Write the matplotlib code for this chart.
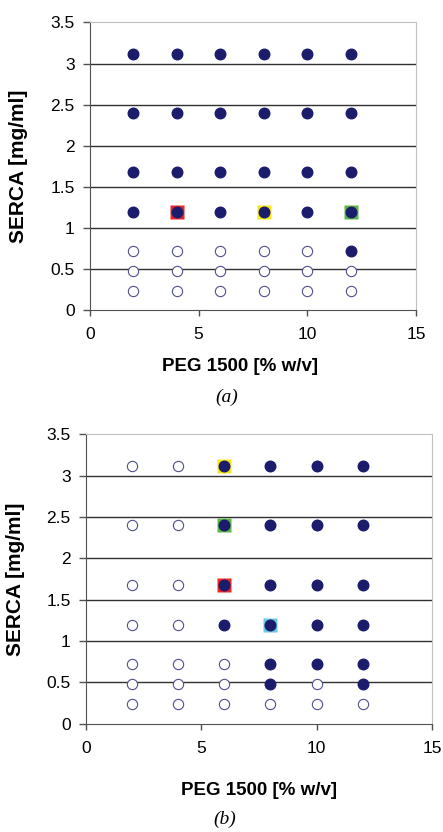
import numpy as np
import matplotlib
matplotlib.use("Agg")
import matplotlib.pyplot as plt

plt.rcParams['font.family'] = ['Liberation Sans', 'DejaVu Sans']

peg = [2, 4, 6, 8, 10, 12]
serca = [3.12, 2.4, 1.68, 1.2, 0.72, 0.48, 0.24]

# 1 = crystals (filled), 0 = clear (open); rows follow serca, columns follow peg
hits_a = [[1, 1, 1, 1, 1, 1],
          [1, 1, 1, 1, 1, 1],
          [1, 1, 1, 1, 1, 1],
          [1, 1, 1, 1, 1, 1],
          [0, 0, 0, 0, 0, 1],
          [0, 0, 0, 0, 0, 0],
          [0, 0, 0, 0, 0, 0]]
hits_b = [[0, 0, 1, 1, 1, 1],
          [0, 0, 1, 1, 1, 1],
          [0, 0, 1, 1, 1, 1],
          [0, 0, 1, 1, 1, 1],
          [0, 0, 0, 1, 1, 1],
          [0, 0, 0, 1, 0, 1],
          [0, 0, 0, 0, 0, 0]]

# highlighted conditions: (peg, serca, colour)
marks_a = [(4, 1.2, '#e8262a'), (8, 1.2, '#f4e61c'), (12, 1.2, '#5cb548')]
marks_b = [(6, 3.12, '#f4e61c'), (6, 2.4, '#5cb548'), (6, 1.68, '#e8262a'),
           (8, 1.2, '#6cc8dc')]

navy = '#1c1c6c'


def panel(ax, hits, marks, caption, xlab_x, xlab_y, ylab_x, cap_x, cap_y):
    ax.set_xlim(0, 15)
    ax.set_ylim(0, 3.5)
    ax.set_xticks([0, 5, 10, 15])
    ax.set_yticks(np.arange(0, 3.51, 0.5))
    ax.set_yticklabels(['0', '0.5', '1', '1.5', '2', '2.5', '3', '3.5'])
    for y in np.arange(0.5, 3.01, 0.5):
        ax.axhline(y, color='#303030', lw=1.0, zorder=1)

    for px, py, c in marks:
        ax.plot(px, py, marker='s', ms=10.5, mfc=c, mec='none', zorder=2)

    X, Y = np.meshgrid(peg, serca)
    H = np.array(hits)
    ax.plot(X[H == 1], Y[H == 1], 'o', ms=7.6, mfc=navy, mec=navy, zorder=3)
    ax.plot(X[H == 0], Y[H == 0], 'o', ms=7.4, mfc='white', mec='#505090',
            mew=0.8, zorder=3)

    for s in ['top', 'right']:
        ax.spines[s].set_color('#c0c0c0')
    for s in ['left', 'bottom']:
        ax.spines[s].set_color('#505050')
    ax.tick_params(direction='out', width=1, color='#505050', labelsize=12.5)
    ax.tick_params(axis='x', length=4, pad=8)
    ax.tick_params(axis='y', length=5, pad=6)
    ax.set_xlabel('PEG 1500 [% w/v]', fontsize=13.5, fontweight='bold')
    ax.set_ylabel('SERCA [mg/ml]', fontsize=15, fontweight='bold')
    ax.xaxis.set_label_coords(xlab_x, xlab_y)
    ax.yaxis.set_label_coords(ylab_x, 0.5)
    ax.text(cap_x, cap_y, caption, transform=ax.transAxes, ha='center',
            va='center', fontsize=14, family='Liberation Serif',
            style='italic')


fig = plt.figure(figsize=(4.43, 8.32), dpi=100)
ax1 = fig.add_axes([0.203, 0.627, 0.736, 0.346])
ax2 = fig.add_axes([0.194, 0.130, 0.781, 0.348])
panel(ax1, hits_a, marks_a, '(a)', 0.46, -0.167, -0.19, 0.42, -0.302)
panel(ax2, hits_b, marks_b, '(b)', 0.50, -0.202, -0.176, 0.40, -0.33)

fig.savefig('out.png', dpi=100)
